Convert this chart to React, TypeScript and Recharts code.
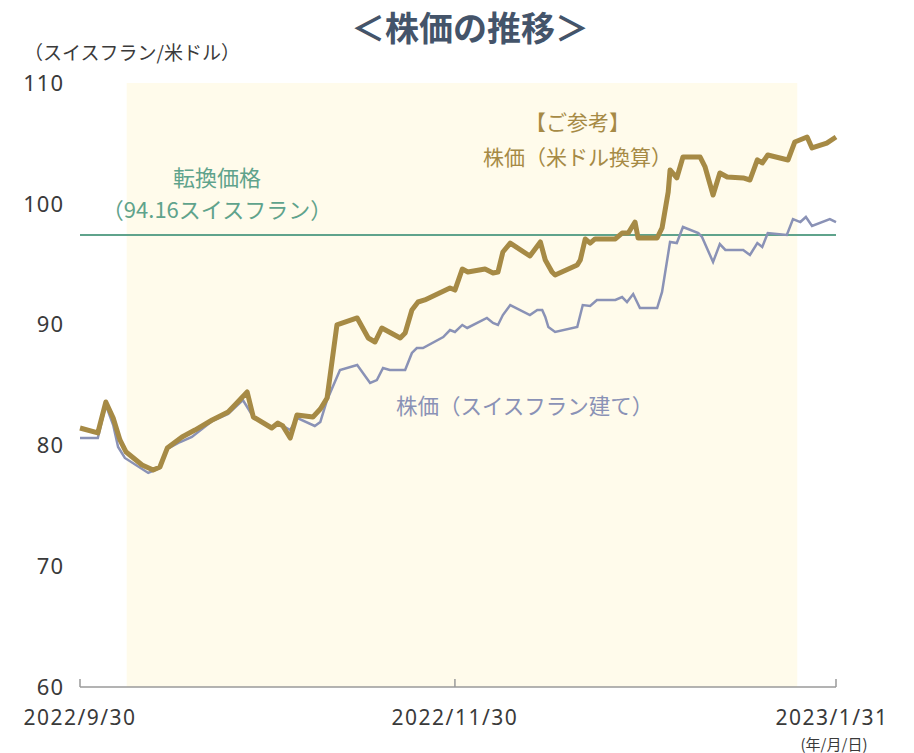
import { LineChart, Line, XAxis, YAxis, ReferenceArea, ReferenceLine } from "recharts";

// day offsets from 2022/9/30
const tickDays = [0, 61, 123];
const tickLabels = ["2022/9/30", "2022/11/30", "2023/1/31"];
const yTicks = [60, 70, 80, 90, 100, 110];

const conversionPrice = 97.42;
const shadeFrom = 7.6;
const shadeTo = 116.7;

const usdDays = [
  0, 2.9, 4.2, 5.4, 6.5, 7.5, 10.1, 11.9, 13.0, 14.2, 16.6, 18.7, 21.5, 24.1, 25.2, 27.2, 28.2,
  31.2, 32.2, 33.0, 34.2, 35.3, 37.9, 39.1, 40.2, 41.8, 45.1, 46.9, 48.0, 49.1, 52.1, 52.9, 54.0,
  55.0, 56.1, 60.2, 61.0, 62.2, 63.1, 65.9, 67.2, 68.0, 68.8, 70.0, 73.2, 74.9, 75.7, 76.8, 77.3,
  80.9, 81.4, 82.2, 83.0, 83.8, 87.1, 88.2, 89.2, 90.3, 90.8, 93.9, 94.7, 95.7, 96.0, 97.1, 98.1,
  100.9, 101.7, 103.0, 104.1, 105.3, 107.9, 109.0, 110.2, 111.0, 111.9, 115.2, 116.3, 118.3, 119.1,
  121.5, 123,
];
const usdValues = [
  81.44, 81.03, 83.59, 82.27, 80.45, 79.45, 78.38, 77.96, 78.21, 79.78, 80.7, 81.27, 82.1, 82.76,
  83.34, 84.42, 82.35, 81.44, 81.85, 81.61, 80.61, 82.52, 82.35, 83.01, 83.92, 89.97, 90.55, 88.89,
  88.56, 89.72, 88.89, 89.3, 91.21, 91.87, 92.04, 93.03, 92.86, 94.6, 94.35, 94.6, 94.27, 94.35,
  96.01, 96.75, 95.68, 96.84, 95.35, 94.35, 94.11, 94.93, 95.35, 97.09, 96.75, 97.09, 97.09, 97.58,
  97.58, 98.49, 97.17, 97.17, 98.0, 100.98, 102.8, 102.14, 103.87, 103.87, 103.05, 100.73, 102.55,
  102.22, 102.14, 101.97, 103.63, 103.38, 104.04, 103.63, 105.12, 105.53, 104.62, 105.03, 105.53,
];

const chfDays = [
  0, 2.9, 4.2, 5.4, 6.2, 7.3, 11.1, 13.0, 14.2, 16.3, 18.2, 21.5, 24.1, 26.5, 28.2, 31.2, 32.2,
  33.0, 34.2, 35.3, 38.2, 39.1, 40.2, 42.3, 45.1, 47.2, 48.3, 49.3, 50.4, 52.9, 54.0, 54.8, 55.8,
  59.1, 60.2, 61.0, 62.2, 63.0, 66.2, 67.2, 68.0, 68.8, 70.0, 73.2, 74.4, 75.2, 75.7, 76.2, 77.3,
  80.9, 81.8, 83.0, 84.1, 87.1, 88.2, 89.0, 90.0, 91.1, 93.9, 94.7, 96.0, 97.1, 98.1, 100.6, 101.2,
  103.0, 104.1, 105.0, 107.9, 109.0, 110.2, 111.0, 111.9, 115.0, 116.0, 117.2, 118.1, 119.1, 122.0,
  123,
];
const chfValues = [
  80.61, 80.61, 83.34, 81.69, 79.87, 78.96, 77.72, 78.13, 79.7, 80.28, 80.7, 82.02, 82.6, 83.76,
  82.35, 81.44, 81.85, 81.61, 81.27, 82.27, 81.61, 81.94, 83.76, 86.24, 86.66, 85.17, 85.41, 86.41,
  86.24, 86.24, 87.65, 88.06, 88.06, 88.97, 89.55, 89.39, 89.97, 89.72, 90.55, 90.13, 89.97, 90.79,
  91.62, 90.79, 91.21, 91.21, 90.63, 89.8, 89.39, 89.8, 91.62, 91.54, 92.04, 92.04, 92.28, 91.87,
  92.53, 91.37, 91.37, 92.7, 96.84, 96.75, 98.08, 97.58, 97.25, 95.18, 96.67, 96.18, 96.18, 95.76,
  96.75, 96.42, 97.58, 97.42, 98.74, 98.49, 98.91, 98.16, 98.74, 98.49,
];

const usdData = usdDays.map((d, i) => ({ d, v: usdValues[i] }));
const chfData = chfDays.map((d, i) => ({ d, v: chfValues[i] }));

const GOLD = "#a68a45";
const BLUE = "#8a92b6";
const GREEN = "#5fa38c";
const TEXT = "#3a3a3a";
const numFont = "'Noto Sans', 'Noto Sans CJK JP', sans-serif";
const jpFont = "'Noto Sans CJK JP', 'Noto Sans', sans-serif";

function DateTick(props: any) {
  const { x, y, payload } = props;
  const idx = tickDays.indexOf(payload.value);
  const isLast = idx === tickDays.length - 1;
  return (
    <g>
      <line x1={x} x2={x} y1={y} y2={y - 8} stroke="#9a9a9a" strokeWidth={1.5} />
      <text x={isLast ? x - 4 : x} y={y + 38} textAnchor="middle" fill={TEXT} fontSize={21} letterSpacing={1.5} fontFamily={numFont}>
        {tickLabels[idx]}
      </text>
      {isLast && (
        <text x={x - 2} y={y + 63} textAnchor="middle" fill={TEXT} fontSize={15} fontFamily={jpFont}>
          (年/月/日)
        </text>
      )}
    </g>
  );
}

const abs = (left: number, top: number, extra: any = {}) => ({
  position: "absolute" as const,
  left,
  top,
  whiteSpace: "nowrap" as const,
  fontFamily: jpFont,
  ...extra,
});

export default function App() {
  return (
    <div style={{ position: "absolute", left: 0, top: 0, width: 914, height: 753, background: "#fff" }}>
      <LineChart width={914} height={753} margin={{ top: 83, right: 78, bottom: 0, left: 20 }}>
        <XAxis
          type="number"
          dataKey="d"
          domain={[0, 123]}
          ticks={tickDays}
          height={66}
          tickSize={0}
          tickMargin={0}
          tick={<DateTick />}
          axisLine={{ stroke: "#9a9a9a", strokeWidth: 1.5 }}
          tickLine={false}
          allowDuplicatedCategory={false}
        />
        <YAxis
          type="number"
          domain={[60, 110]}
          ticks={yTicks}
          width={60}
          axisLine={false}
          tickLine={false}
          tickSize={0}
          tickMargin={16}
          tick={{ fill: TEXT, fontSize: 22, letterSpacing: 1, fontFamily: numFont }}
        />
        <ReferenceArea x1={shadeFrom} x2={shadeTo} y1={60} y2={110} fill="#fffbeb" fillOpacity={1} stroke="none" />
        <ReferenceLine y={conversionPrice} stroke={GREEN} strokeWidth={2} />
        <Line
          data={chfData}
          dataKey="v"
          type="linear"
          stroke={BLUE}
          strokeWidth={2.5}
          dot={false}
          isAnimationActive={false}
        />
        <Line
          data={usdData}
          dataKey="v"
          type="linear"
          stroke={GOLD}
          strokeWidth={5}
          strokeLinejoin="round"
          dot={false}
          isAnimationActive={false}
        />
      </LineChart>

      <div style={abs(0, 2, { width: 940, textAlign: "center", fontSize: 34, fontWeight: 700, color: "#44546a" })}>
        ＜株価の推移＞
      </div>
      <div style={abs(24, 38, { fontSize: 19, color: TEXT })}>（スイスフラン/米ドル）</div>

      <div style={abs(477, 106, { width: 201, textAlign: "center", fontSize: 21, color: GOLD })}>【ご参考】</div>
      <div style={abs(477, 141, { width: 201, textAlign: "center", fontSize: 21, color: GOLD })}>株価（米ドル換算）</div>

      <div style={abs(94, 160, { width: 246, textAlign: "center", fontSize: 22, color: GREEN })}>転換価格</div>
      <div style={abs(94, 192, { width: 246, textAlign: "center", fontSize: 22, color: GREEN })}>（94.16スイスフラン）</div>

      <div style={abs(396, 389, { fontSize: 21.5, color: BLUE })}>株価（スイスフラン建て）</div>
    </div>
  );
}
